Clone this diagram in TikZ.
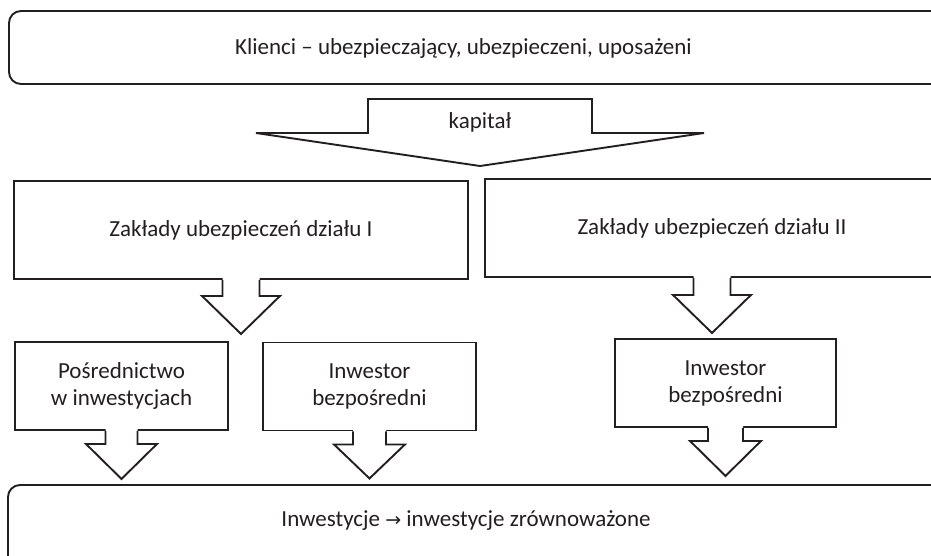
\documentclass[tikz,border=0pt]{standalone}
\usepackage{fontspec}
\setmainfont{Carlito}
\newfontfamily\arrowfont{DejaVu Sans}
\definecolor{ink}{HTML}{231F20}

% Block arrow hanging below a box: #1 anchor at the top of the shaft,
% #2 shaft half-width, #3 head half-width, #4 shaft length, #5 head length
\newcommand\hangarrow[5]{%
  \path[fill=white] ([xshift=-#2pt,yshift=2pt]#1) -- ++(0,{#4+2}) -- ++({#2-#3},0)
    -- ++(#3,#5) -- ++(#3,-#5) -- ++({#2-#3},0) -- ++(0,{-#4-2}) -- cycle;
  \draw[outline] ([xshift=-#2pt]#1) -- ++(0,#4) -- ++({#2-#3},0)
    -- ++(#3,#5) -- ++(#3,-#5) -- ++({#2-#3},0) -- ++(0,-#4);
}

\begin{document}
\begin{tikzpicture}[x=1pt,y=-1pt,
  outline/.style={draw=ink, line width=1.9pt, line join=miter},
  box/.style={outline, fill=white, rectangle, inner sep=0pt,
    text=ink, font=\fontsize{23}{27}\selectfont, align=center},
  lbl/.style={text=ink, font=\fontsize{23}{27}\selectfont, inner sep=0pt},
]
\useasboundingbox (0,0) rectangle (931,555);
\clip (0,0) rectangle (931,555);
\fill[white] (0,0) rectangle (931,555);

% clients (top) and investments (bottom) panels
\draw[outline, rounded corners=12pt] (9,11) rectangle (960,84);
\node[lbl] (klienci) at (463.5,48) {Klienci – ubezpieczający, ubezpieczeni, uposażeni};
\draw[outline, rounded corners=12pt] (8,485) rectangle (960,570);
\node[lbl] (inwestycje) at (466,521) {Inwestycje {\arrowfont\fontsize{19}{20}\selectfont →} inwestycje zrównoważone};

% capital flow arrow
\coordinate (kap) at (480,99);
\draw[outline, fill=white] ([xshift=-112pt]kap) -- ++(0,34) -- ++(-112,0)
  -- ++(224,33) -- ++(224,-33) -- ++(-112,0) -- ++(0,-34) -- cycle;
\node[lbl] (kapital) at (480,122) {kapitał};

% insurers
\node[box, minimum width=454pt, minimum height=98pt] (z1) at (241,230) {Zakłady ubezpieczeń działu I};
\node[box, minimum width=454pt, minimum height=98pt] (z2) at (712,228) {Zakłady ubezpieczeń działu II};
\hangarrow{z1.south}{18.5}{39}{16}{38}
\hangarrow{z2.south}{18.5}{39}{17}{38}

% investment channels
\node[box, minimum width=213pt, minimum height=88pt] (pos) at (121.5,386) {Pośrednictwo\\w inwestycjach};
\node[box, minimum width=213pt, minimum height=88pt] (inw1) at (369.5,386.5) {Inwestor\\bezpośredni};
\node[box, minimum width=221pt, minimum height=88pt] (inw2) at (725.5,383) {Inwestor\\bezpośredni};
\hangarrow{pos.south}{16}{35.5}{13}{35}
\hangarrow{inw1.south}{16.5}{35.5}{13}{34}
\hangarrow{inw2.south}{17.5}{35.5}{13}{35}
\end{tikzpicture}
\end{document}
